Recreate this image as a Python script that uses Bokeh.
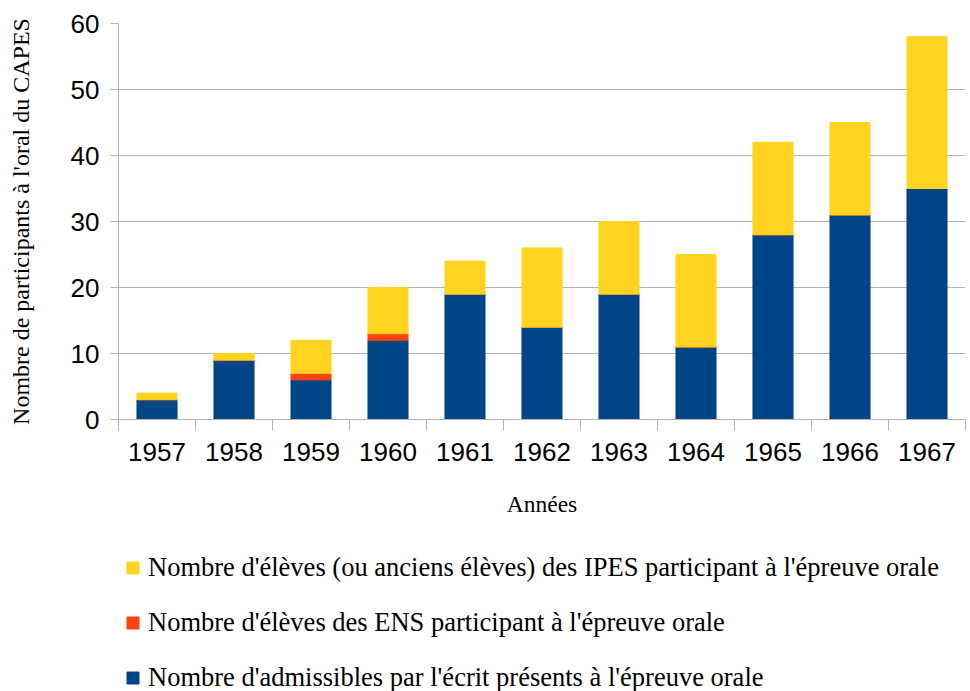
from bokeh.plotting import figure
from bokeh.models import (ColumnDataSource, Range1d, FixedTicker, Legend, LegendItem)
from bokeh.layouts import column
from bokeh.embed import file_html
from bokeh.resources import INLINE

years = ["1957", "1958", "1959", "1960", "1961", "1962", "1963", "1964", "1965", "1966", "1967"]
admissibles = [3, 9, 6, 12, 19, 14, 19, 11, 28, 31, 35]
ens = [0, 0, 1, 1, 0, 0, 0, 0, 0, 0, 0]
ipes = [1, 1, 5, 7, 5, 12, 11, 14, 14, 14, 23]
y_ticks = [0, 10, 20, 30, 40, 50, 60]

labels = [
    "Nombre d'admissibles par l'écrit présents à l'épreuve orale",
    "Nombre d'élèves des ENS participant à l'épreuve orale",
    "Nombre d'élèves (ou anciens élèves) des IPES participant à l'épreuve orale",
]
colors = ["#004586", "#ff420e", "#ffd320"]

xs = list(range(1, len(years) + 1))
src = ColumnDataSource(dict(x=xs, admis=admissibles, ens=ens, ipes=ipes))

p = figure(width=966, height=530, output_backend="svg", toolbar_location=None,
           x_range=Range1d(0.5, len(years) + 0.5), y_range=Range1d(0, 60),
           min_border_left=118, min_border_top=23, min_border_right=1,
           min_border_bottom=111)
p.outline_line_color = None
p.background_fill_color = "white"

rs = p.vbar_stack(["admis", "ens", "ipes"], x="x", width=0.52, color=colors, source=src)

# axes
xa = p.xaxis[0]
xa.ticker = FixedTicker(ticks=xs, minor_ticks=[i + 0.5 for i in range(len(years) + 1)])
xa.major_label_overrides = {x: y for x, y in zip(xs, years)}
xa.major_tick_line_color = None
xa.minor_tick_line_color = "#b3b3b3"
xa.minor_tick_out = 11
xa.minor_tick_in = 0
xa.axis_line_color = "#b3b3b3"
xa.major_label_text_font = "Liberation Sans"
xa.major_label_text_font_size = "26px"
xa.major_label_text_color = "black"
xa.major_label_standoff = 12
xa.axis_label = "Années"
xa.axis_label_text_font = "Liberation Serif"
xa.axis_label_text_font_style = "normal"
xa.axis_label_text_font_size = "23.5px"
xa.axis_label_text_color = "black"
xa.axis_label_standoff = 27

ya = p.yaxis[0]
ya.ticker = FixedTicker(ticks=y_ticks)
ya.major_tick_line_color = "#b3b3b3"
ya.major_tick_out = 8
ya.major_tick_in = 0
ya.minor_tick_line_color = None
ya.axis_line_color = "#b3b3b3"
ya.major_label_text_font = "Liberation Sans"
ya.major_label_text_font_size = "26px"
ya.major_label_text_color = "black"
ya.major_label_standoff = 11
ya.axis_label = "Nombre de participants à l'oral du CAPES"
ya.axis_label_text_font = "Liberation Serif"
ya.axis_label_text_font_style = "normal"
ya.axis_label_text_font_size = "24px"
ya.axis_label_text_color = "black"
ya.axis_label_standoff = 34

p.xgrid.grid_line_color = None
p.ygrid.grid_line_color = "#b3b3b3"
p.ygrid.ticker = FixedTicker(ticks=y_ticks)

# legend panel (separate figure below the chart); its swatch renderers use the
# same data, placed outside this panel's visible range so only the legend shows
lg = figure(width=966, height=165, output_backend="svg", toolbar_location=None,
            x_range=Range1d(0.5, len(years) + 0.5), y_range=Range1d(100, 101),
            x_axis_type=None, y_axis_type=None,
            min_border_left=0, min_border_right=0, min_border_top=0, min_border_bottom=0)
lg.outline_line_color = None
lg.xgrid.grid_line_color = None
lg.ygrid.grid_line_color = None
swatches = lg.vbar_stack(["admis", "ens", "ipes"], x="x", width=0.52, color=colors, source=src)
items = [LegendItem(label=labels[i], renderers=[swatches[i]]) for i in (2, 1, 0)]
legend = Legend(items=items, orientation="vertical", location=(7, 2),
                border_line_color=None, background_fill_alpha=0,
                glyph_width=15, glyph_height=15, label_standoff=8,
                label_text_font="Liberation Serif", label_text_font_size="26.5px",
                label_text_color="black",
                label_height=30, spacing=24, padding=0, margin=0)
lg.add_layout(legend, "center")

layout = column(p, lg, spacing=0)
open("out.html", "w").write(file_html(layout, INLINE))
